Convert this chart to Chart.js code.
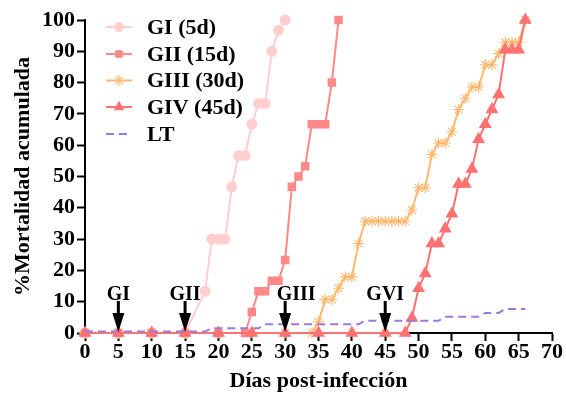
<!DOCTYPE html>
<html>
<head>
<meta charset="utf-8">
<script src="https://cdn.jsdelivr.net/npm/chart.js@4/dist/chart.umd.min.js"></script>
<style>
  html, body { margin: 0; padding: 0; background: #ffffff; }
  #wrap { width: 566px; height: 395px; position: relative; }
</style>
</head>
<body>
<div id="wrap"><canvas id="c" width="566" height="395"></canvas></div>
<script>
// Cumulative mortality (%) per group, by day post-infection
const giDays = [0, 5, 10, 15, 18, 19, 20, 21, 22, 23, 24, 25, 26, 27, 28, 29, 30];
const giValues = [0, 0, 0, 0, 13.3, 30, 30, 30, 46.7, 56.7, 56.7, 66.7, 73.3, 73.3, 90, 96.7, 100];

const giiDays = [0, 5, 10, 15, 20, 24, 25, 26, 27, 28, 29, 30, 31, 32, 33, 34, 35, 36, 37, 38];
const giiValues = [0, 0, 0, 0, 0, 0, 6.7, 13.3, 13.3, 16.7, 16.7, 23.3, 46.7, 50, 53.3, 66.7, 66.7, 66.7, 80, 100];

const giiiDays = [0, 5, 10, 15, 20, 25, 30, 34, 35, 36, 37, 38, 39, 40, 41, 42, 43, 44, 45, 46, 47, 48, 49, 50,
                  51, 52, 53, 54, 55, 56, 57, 58, 59, 60, 61, 62, 63, 64, 65, 66];
const giiiValues = [0, 0, 0, 0, 0, 0, 0, 0, 3.6, 10.7, 10.7, 14.3, 17.9, 17.9, 28.6, 35.7, 35.7, 35.7, 35.7, 35.7, 35.7, 35.7, 39.3, 46.4,
                    46.4, 57.1, 60.7, 60.7, 64.3, 71.4, 75.0, 78.6, 78.6, 85.7, 85.7, 89.3, 92.9, 92.9, 92.9, 100];

const givDays = [0, 5, 10, 15, 20, 25, 30, 35, 40, 45, 48, 49, 50, 51, 52, 53, 54, 55, 56, 57,
                 58, 59, 60, 61, 62, 63, 64, 65, 66];
const givValues = [0, 0, 0, 0, 0, 0, 0, 0, 0, 0, 0, 4.8, 14.3, 19.0, 28.6, 28.6, 33.3, 38.1, 47.6, 47.6,
                   52.4, 61.9, 66.7, 71.4, 76.2, 90.5, 90.5, 90.5, 100];

const ltDays = [0, 18, 19, 26, 27, 41, 42, 53, 54, 59, 60, 62, 63, 66];
const ltValues = [0.5, 0.5, 1.5, 1.5, 2.8, 2.8, 3.9, 3.9, 5.2, 5.2, 6.4, 6.4, 7.7, 7.7];

const seriesNames = ['GI (5d)', 'GII (15d)', 'GIII (30d)', 'GIV (45d)', 'LT'];

// Inoculation markers
const arrowDays = [5, 15, 30, 45];
const arrowLabels = ['GI', 'GII', 'GIII', 'GVI'];

const xTicks = [0, 5, 10, 15, 20, 25, 30, 35, 40, 45, 50, 55, 60, 65, 70];
const yTicks = [0, 10, 20, 30, 40, 50, 60, 70, 80, 90, 100];

const SERIF = "'Liberation Serif', 'Times New Roman', serif";

function pts(days, vals) { return days.map((d, i) => ({ x: d, y: vals[i] })); }

const datasets = [
  { label: seriesNames[0], data: pts(giDays, giValues), borderColor: '#ffcfcf', backgroundColor: '#ffcfcf',
    pointStyle: 'circle', pointRadius: 4.5, borderWidth: 2, order: 4 },
  { label: seriesNames[1], data: pts(giiDays, giiValues), borderColor: '#ff8888', backgroundColor: '#ff8888',
    pointStyle: 'rect', pointRadius: 4.6, borderWidth: 2, order: 3 },
  { label: seriesNames[2], data: pts(giiiDays, giiiValues), borderColor: '#ffb86e', backgroundColor: '#ffb86e',
    pointStyle: 'star', pointRadius: 5.5, pointBorderWidth: 1.2, borderWidth: 2, order: 2 },
  { label: seriesNames[3], data: pts(givDays, givValues), borderColor: '#ff7272', backgroundColor: '#ff7272',
    pointStyle: 'triangle', pointRadius: 5.5, borderWidth: 2, order: 1 },
  { label: seriesNames[4], data: pts(ltDays, ltValues), borderColor: '#9a7ade', backgroundColor: '#9a7ade',
    pointRadius: 0, borderWidth: 2, borderDash: [8, 5], order: 0 }
];
datasets.forEach(ds => { ds.tension = 0; ds.fill = false; ds.clip = false; ds.pointBorderColor = ds.borderColor; ds.pointBackgroundColor = ds.backgroundColor; });

// Arrows with group labels above the x axis
const arrowPlugin = {
  id: 'arrows',
  afterDatasetsDraw(chart) {
    const { ctx, scales: { x, y } } = chart;
    const shift = { GIII: 11 };
    ctx.save();
    ctx.fillStyle = '#000';
    ctx.strokeStyle = '#000';
    arrowDays.forEach((d, i) => {
      const px = x.getPixelForValue(d);
      const tip = y.getPixelForValue(0) - 1;
      ctx.lineWidth = 3;
      ctx.beginPath();
      ctx.moveTo(px, tip - 31);
      ctx.lineTo(px, tip - 17);
      ctx.stroke();
      ctx.beginPath();
      ctx.moveTo(px - 6, tip - 19);
      ctx.lineTo(px + 6, tip - 19);
      ctx.lineTo(px, tip);
      ctx.closePath();
      ctx.fill();
      ctx.font = 'bold 20px ' + SERIF;
      ctx.textAlign = 'center';
      ctx.textBaseline = 'middle';
      ctx.fillText(arrowLabels[i], px + (shift[arrowLabels[i]] || 0), tip - 37);
    });
    ctx.restore();
  }
};

// Legend in the upper-left corner of the plot
const legendPlugin = {
  id: 'cornerLegend',
  afterDraw(chart) {
    const ctx = chart.ctx;
    const rows = [27, 54, 80.5, 107, 134];
    ctx.save();
    chart.data.datasets.forEach((ds, i) => {
      const yy = rows[i];
      ctx.strokeStyle = ds.borderColor;
      ctx.fillStyle = ds.backgroundColor;
      ctx.lineWidth = 2;
      ctx.setLineDash(ds.borderDash || []);
      ctx.beginPath();
      ctx.moveTo(106, yy);
      ctx.lineTo(132, yy);
      ctx.stroke();
      ctx.setLineDash([]);
      if (ds.pointRadius > 0) {
        ctx.lineWidth = ds.pointBorderWidth || 1;
        Chart.helpers.drawPoint(ctx, { pointStyle: ds.pointStyle, radius: ds.pointRadius, rotation: 0, borderWidth: ds.pointBorderWidth || 1 }, 119, yy);
      }
      ctx.fillStyle = '#000';
      ctx.font = 'bold 22px ' + SERIF;
      ctx.textAlign = 'left';
      ctx.textBaseline = 'middle';
      ctx.fillText(ds.label, 147, yy + 1);
    });
    ctx.restore();
  }
};

new Chart(document.getElementById('c'), {
  type: 'line',
  data: { datasets },
  options: {
    responsive: false,
    animation: false,
    layout: { padding: { left: 0, right: 14, top: 20, bottom: 0 } },
    plugins: { legend: { display: false }, tooltip: { enabled: false } },
    elements: { point: { borderWidth: 1 } },
    scales: {
      x: {
        type: 'linear', min: 0, max: 70,
        afterBuildTicks: s => { s.ticks = xTicks.map(v => ({ value: v })); },
        afterFit: s => { s.height = 62; },
        grid: { display: true, drawOnChartArea: false, drawTicks: true, tickLength: 8, tickWidth: 2, tickColor: '#000' },
        border: { display: true, color: '#000', width: 2 },
        ticks: { color: '#000', padding: 0, font: { family: SERIF, size: 22, weight: 'bold', lineHeight: 1 } },
        title: { display: true, text: 'Días post-infección', color: '#000', padding: { top: 0, bottom: 0 },
                 font: { family: SERIF, size: 22, weight: 'bold', lineHeight: 1.2 } }
      },
      y: {
        type: 'linear', min: 0, max: 100,
        afterBuildTicks: s => { s.ticks = yTicks.map(v => ({ value: v })); },
        afterFit: s => { s.width = 85; },
        grid: { display: true, drawOnChartArea: false, drawTicks: true, tickLength: 8, tickWidth: 2, tickColor: '#000' },
        border: { display: true, color: '#000', width: 2 },
        ticks: { color: '#000', padding: 2, font: { family: SERIF, size: 22, weight: 'bold', lineHeight: 1 } },
        title: { display: true, text: '%Mortalidad acumulada', color: '#000', padding: { top: 10, bottom: 0 },
                 font: { family: SERIF, size: 22, weight: 'bold', lineHeight: 1.2 } }
      }
    }
  },
  plugins: [arrowPlugin, legendPlugin]
});
</script>
</body>
</html>
